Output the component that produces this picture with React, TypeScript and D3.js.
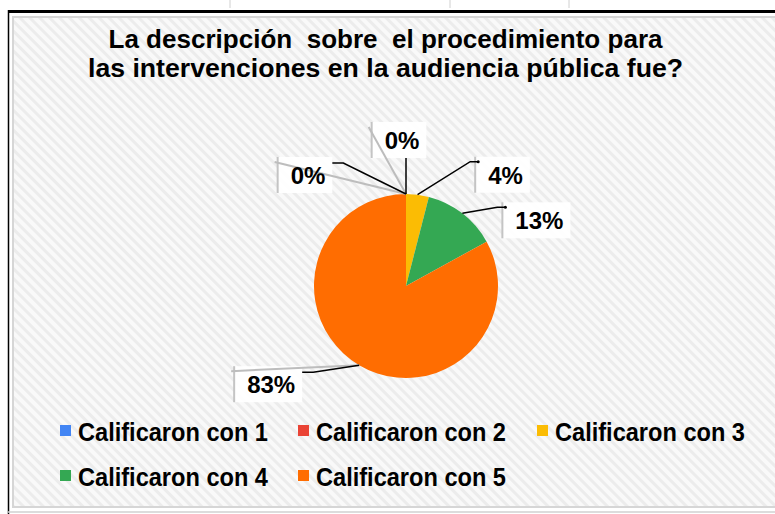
import React from 'react';
import * as d3 from 'd3';

const categories = ['Calificaron con 1', 'Calificaron con 2', 'Calificaron con 3', 'Calificaron con 4', 'Calificaron con 5'];
const values = [0, 0, 4, 13, 83];
const colors = ['#4285f4', '#ea4335', '#fbbc04', '#34a853', '#ff6d01'];
const titleLines = ['La descripción  sobre  el procedimiento para', 'las intervenciones en la audiencia pública fue?'];
// label box offsets (relative to the slice anchor on the rim)
const labelOffsets: [number, number][] = [[-101, -19], [-7, -54], [85, -20], [74, 7], [-91, 19]];

const W = 775;
const H = 514;
const cx = 406;
const cy = 286;
const R = 92;
const FONT = '"Liberation Sans", Arial, sans-serif';
const LABEL_SIZE = 24;

function textWidth(s: string, size: number) {
  let w = 0;
  for (const c of s) w += c === '%' ? 0.889 : 0.556;
  return w * size;
}

export default function App() {
  const total = d3.sum(values);
  const pie = d3.pie<number>().sort(null).value((d) => d);
  const arcs = pie(values);
  const arcGen = d3.arc<d3.PieArcDatum<number>>().innerRadius(0).outerRadius(R);
  const fmt = d3.format('.0%');

  const labels = arcs.map((a, i) => {
    const mid = (a.startAngle + a.endAngle) / 2;
    const ax = cx + R * Math.sin(mid);
    const ay = cy - R * Math.cos(mid);
    const [dx, dy] = labelOffsets[i];
    const bx = ax + dx;
    const by = ay + dy;
    const text = fmt(values[i] / total);
    const tw = textWidth(text, LABEL_SIZE);
    const bw = tw + 20;
    const bh = 36;
    const x0 = bx - bw / 2;
    const y0 = by - bh / 2;
    let leader: [number, number][];
    if (Math.abs(dx) < 20) {
      leader = [[ax, ay], [ax, y0 + bh]];
    } else if (dx < 0) {
      leader = [[ax, ay], [x0 + bw + 11, y0 + 6], [x0 + bw, y0 + 6]];
    } else {
      leader = [[ax, ay], [x0 - 5, y0 + 5], [x0 + 3, y0 + 5]];
    }
    return { ax, ay, bx, by, x0, y0, bw, bh, text, dx, leader };
  });

  const line = d3.line();
  const legendCols = [60, 298, 537];
  const legendRows = [441, 486];

  return (
    <svg width={W} height={H} style={{ position: 'absolute', left: 0, top: 0 }} fontFamily={FONT}>
      <defs>
        <pattern id="stripes" width="7" height="7" patternUnits="userSpaceOnUse" patternTransform="rotate(-45)">
          <rect width="7" height="7" fill="#f9f9f9" />
          <rect width="3" height="7" fill="#ececec" />
        </pattern>
      </defs>
      <rect x={0} y={0} width={W} height={H} fill="#ffffff" />
      {[230, 450, 569].map((x) => (
        <line key={x} x1={x} x2={x} y1={0} y2={8} stroke="#d0d0d0" strokeWidth={1} />
      ))}
      <rect x={13} y={17} width={W} height={490} fill="url(#stripes)" stroke="#d6d6d6" strokeWidth={2} />
      <line x1={8} x2={W} y1={11.5} y2={11.5} stroke="#000" strokeWidth={3} />
      <line x1={8.5} x2={8.5} y1={10} y2={H} stroke="#000" strokeWidth={1.5} />
      <line x1={8} x2={W} y1={512} y2={512} stroke="#d0d0d0" strokeWidth={1.5} />

      {titleLines.map((t, i) => (
        <text
          key={i}
          x={385.5}
          y={48 + i * 29}
          textAnchor="middle"
          fontSize={26}
          fontWeight="bold"
          fill="#000"
          textLength={i === 0 ? 554 : 595}
          lengthAdjust="spacingAndGlyphs"
          style={{ whiteSpace: 'pre' }}
        >
          {t}
        </text>
      ))}

      <g>
        {arcs.map((a, i) => (
          <path key={i} d={arcGen(a) || ''} transform={`translate(${cx},${cy})`} fill={colors[i]} />
        ))}
      </g>

      {labels.map((l, i) => (
        <rect key={'b' + i} x={l.x0} y={l.y0} width={l.bw} height={l.bh} fill="#ffffff" fillOpacity={0.92} />
      ))}
      {labels.map((l, i) => (
        <g key={'g' + i}>
          <line x1={l.x0} x2={l.x0} y1={l.y0} y2={l.y0 + l.bh} stroke="#c4c4c4" strokeWidth={2} />
          {l.bx < l.ax && (
            <line x1={l.x0 - 3} y1={l.y0 + 5} x2={l.ax} y2={l.ay} stroke="#bdbdbd" strokeWidth={2} />
          )}
        </g>
      ))}
      {labels.map((l, i) => (
        <g key={'l' + i}>
          <path d={line(l.leader) || ''} fill="none" stroke="#000" strokeWidth={1.5} />
          {l.dx > 20 && (
            <circle cx={l.leader[2][0]} cy={l.leader[2][1]} r={1.5} fill="#000" />
          )}
        </g>
      ))}
      {labels.map((l, i) => (
        <text key={'t' + i} x={l.bx + 3} y={l.by + 9} textAnchor="middle" fontSize={LABEL_SIZE} fontWeight="bold" fill="#000">
          {l.text}
        </text>
      ))}

      {categories.map((c, i) => {
        const col = i % 3;
        const row = Math.floor(i / 3);
        const x = legendCols[col];
        const y = legendRows[row];
        return (
          <g key={c}>
            <rect x={x} y={y - 16} width={11} height={11} fill={colors[i]} />
            <text x={x + 18} y={y} fontSize={25} fontWeight="bold" fill="#000" textLength={190} lengthAdjust="spacingAndGlyphs">
              {c}
            </text>
          </g>
        );
      })}
    </svg>
  );
}
